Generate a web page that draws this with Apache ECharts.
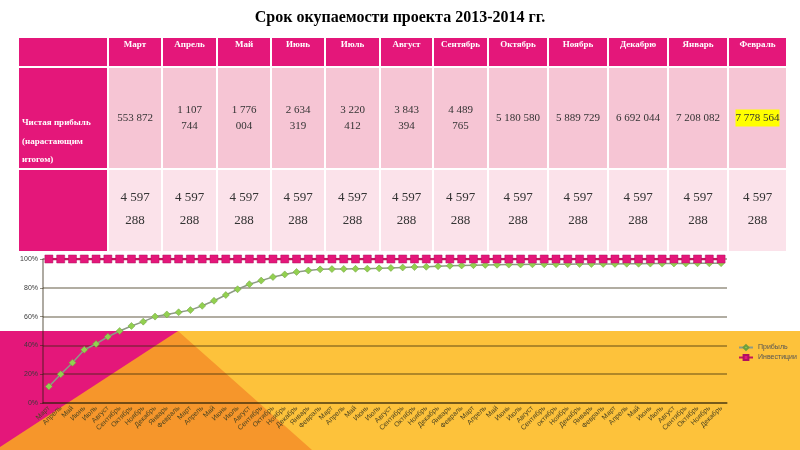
<!DOCTYPE html>
<html>
<head>
<meta charset="utf-8">
<script src="https://cdn.jsdelivr.net/npm/echarts@6/dist/echarts.min.js"></script>
<style>
  html, body { margin: 0; padding: 0; background: #fff; }
  #chart { width: 800px; height: 450px; }
</style>
</head>
<body>
<div id="chart"></div>
<script>
// таблица
const tableMonths = ['Март', 'Апрель', 'Май', 'Июнь', 'Июль', 'Август', 'Сентябрь', 'Октябрь', 'Ноябрь', 'Декабрю', 'Январь', 'Февраль'];
const netProfit = [553872, 1107744, 1776004, 2634319, 3220412, 3843394, 4489765, 5180580, 5889729, 6692044, 7208082, 7778564];
const investTable = [4597288, 4597288, 4597288, 4597288, 4597288, 4597288, 4597288, 4597288, 4597288, 4597288, 4597288, 4597288];
const rowLabel = 'Чистая прибыль\n(нарастающим\nитогом)';

// график
const categories = [
  'Март', 'Апрель', 'Май', 'Июнь', 'Июль', 'Август', 'Сентябрь', 'Октябрь', 'Ноябрь', 'Декабрь', 'Январь', 'Февраль',
  'Март', 'Апрель', 'Май', 'Июнь', 'Июль', 'Август', 'Сентябрь', 'Октябрь', 'Ноябрь', 'Декабрь', 'Январь', 'Февраль',
  'Март', 'Апрель', 'Май', 'Июнь', 'Июль', 'Август', 'Сентябрь', 'Октябрь', 'Ноябрь', 'Декабрь', 'Январь', 'Февраль',
  'Март', 'Апрель', 'Май', 'Июнь', 'Июль', 'Август', 'Сентябрь', 'октябрь', 'Ноябрь', 'Декабрь', 'Январь', 'Февраль',
  'Март', 'Апрель', 'Май', 'Июнь', 'Июль', 'Август', 'Сентябрь', 'Октябрь', 'Ноябрь', 'Декабрь'
];
const profitPct = [
  11.5, 20, 28, 37, 41, 46, 50, 53.5, 56.5, 60, 61.5, 63,
  64.5, 67.5, 71, 75, 79, 82.5, 85, 87.5, 89.3, 91, 92, 92.8,
  93, 93.1, 93.2, 93.3, 93.5, 93.8, 94.1, 94.4, 94.6, 95, 95.3, 95.5,
  95.7, 95.9, 96, 96.1, 96.2, 96.3, 96.3, 96.4, 96.4, 96.5, 96.5, 96.6,
  96.6, 96.7, 96.7, 96.8, 96.8, 96.9, 96.9, 97, 97, 97.1
];
const investPct = [
  100, 100, 100, 100, 100, 100, 100, 100, 100, 100, 100, 100,
  100, 100, 100, 100, 100, 100, 100, 100, 100, 100, 100, 100,
  100, 100, 100, 100, 100, 100, 100, 100, 100, 100, 100, 100,
  100, 100, 100, 100, 100, 100, 100, 100, 100, 100, 100, 100,
  100, 100, 100, 100, 100, 100, 100, 100, 100, 100
];

const MAGENTA = '#E4177A';
const SERIF = '"Liberation Serif", "DejaVu Serif", serif';
const SANS = '"Liberation Sans", Arial, sans-serif';

// ширины колонок и высоты строк таблицы (в пикселях сетки)
const colWidths = [90, 54, 55, 54, 54, 55, 53, 55, 60, 60, 60, 60, 59];
const rowHeights = [30, 102, 83];
const colEdge = [0];
colWidths.forEach(w => colEdge.push(colEdge[colEdge.length - 1] + w));
const rowEdge = [0];
rowHeights.forEach(h => rowEdge.push(rowEdge[rowEdge.length - 1] + h));

function fmt(n) {
  return String(n).replace(/\B(?=(\d{3})+(?!\d))/g, ' ');
}
function breakLast(s) {
  const i = s.lastIndexOf(' ');
  return s.slice(0, i) + '\n' + s.slice(i + 1);
}

// ячейки: [колонка, строка]
const cells = [];
for (let c = 0; c < 13; c++) {
  for (let r = 0; r < 3; r++) cells.push([c, r]);
}

function cellText(c, r) {
  if (c === 0) return r === 1 ? rowLabel : '';
  const i = c - 1;
  if (r === 0) return tableMonths[i];
  if (r === 1) {
    const s = fmt(netProfit[i]);
    return (colWidths[c] < 58 && s.split(' ').length > 2) ? breakLast(s) : s;
  }
  return breakLast(fmt(investTable[i]));
}

function renderCell(params, api) {
  const c = api.value(0), r = api.value(1);
  const p0 = api.coord([colEdge[c], rowEdge[r]]);
  const p1 = api.coord([colEdge[c + 1], rowEdge[r + 1]]);
  const x = p0[0] + 1, y = p0[1] + 1, w = p1[0] - p0[0] - 2, h = p1[1] - p0[1] - 2;
  let fill = r === 1 ? '#F6C5D4' : '#FBE2EA';
  if (r === 0 || c === 0) fill = MAGENTA;
  const children = [{ type: 'rect', shape: { x, y, width: w, height: h }, style: { fill } }];
  const text = cellText(c, r);
  if (text) {
    let style;
    if (r === 0) {
      style = { text, x: x + w / 2, y: y + 2, align: 'center', verticalAlign: 'top',
        font: 'bold 9px ' + SERIF, fill: '#fff' };
    } else if (c === 0) {
      style = { text, x: x + 3, y: y + h + 1, align: 'left', verticalAlign: 'bottom',
        font: 'bold 9px ' + SERIF, fill: '#fff', lineHeight: 18.5 };
    } else if (r === 1) {
      style = { text, x: x + w / 2, y: y + h / 2, align: 'center', verticalAlign: 'middle',
        font: '11px ' + SERIF, fill: '#333', lineHeight: 16 };
      if (c === 12) { style.backgroundColor = '#FFFF00'; style.padding = [1, 0, 0, 0]; }
    } else {
      style = { text, x: x + w / 2, y: y + h / 2 - 1, align: 'center', verticalAlign: 'middle',
        font: '13px ' + SERIF, fill: '#333', lineHeight: 23 };
    }
    children.push({ type: 'text', style });
  }
  return { type: 'group', children };
}

const chart = echarts.init(document.getElementById('chart'));
const option = {
  animation: false,
  backgroundColor: '#fff',
  title: {
    text: 'Срок окупаемости проекта 2013-2014 гг.',
    left: 'center', top: 5,
    textStyle: { fontFamily: SERIF, fontSize: 16, fontWeight: 'bold', color: '#000' }
  },
  graphic: [
    { type: 'rect', z: -10, shape: { x: 0, y: 331, width: 800, height: 119 }, style: { fill: '#FDC23B' } },
    { type: 'polygon', z: -9, shape: { points: [[0, 331], [178, 331], [312, 450], [0, 450]] }, style: { fill: '#F6962B' } },
    { type: 'polygon', z: -8, shape: { points: [[0, 331], [178, 331], [0, 447]] }, style: { fill: MAGENTA } }
  ],
  legend: {
    orient: 'vertical', left: 733, top: 339,
    itemWidth: 14, itemHeight: 6, itemGap: 3,
    textStyle: { fontFamily: SANS, fontSize: 7, color: '#555' },
    data: ['Прибыль', 'Инвестиции']
  },
  grid: [
    { left: 43, right: 73, top: 259, bottom: 47 },
    { left: 18, top: 37, width: 769, height: 215 }
  ],
  xAxis: [
    {
      type: 'category', data: categories, gridIndex: 0,
      axisLine: { lineStyle: { color: 'rgba(40,30,10,0.55)', width: 1.5 } },
      axisTick: { interval: 0, length: 3, lineStyle: { color: 'rgba(40,30,10,0.55)' } },
      axisLabel: { interval: 0, rotate: 45, fontSize: 7, fontFamily: SANS, color: '#4d4420', margin: 4 }
    },
    { type: 'value', gridIndex: 1, min: 0, max: colEdge[colEdge.length - 1], show: false }
  ],
  yAxis: [
    {
      type: 'value', gridIndex: 0, min: 0, max: 100, interval: 20,
      axisLine: { show: true, lineStyle: { color: 'rgba(40,30,10,0.5)', width: 1.5 } },
      axisTick: { show: true, length: 3, lineStyle: { color: 'rgba(40,30,10,0.5)' } },
      axisLabel: { formatter: '{value}%', fontSize: 7, fontFamily: SANS, color: '#3a3a3a', margin: 5 },
      splitLine: { lineStyle: { color: 'rgba(50,40,10,0.38)', width: 2 } }
    },
    { type: 'value', gridIndex: 1, min: 0, max: rowEdge[rowEdge.length - 1], inverse: true, show: false }
  ],
  series: [
    {
      type: 'custom', xAxisIndex: 1, yAxisIndex: 1, clip: false, silent: true,
      data: cells, renderItem: renderCell, z: 1
    },
    {
      name: 'Прибыль', type: 'line', data: profitPct,
      symbol: 'diamond', symbolSize: 7,
      lineStyle: { color: '#8E9A86', width: 1.5 },
      itemStyle: { color: '#92D050', borderColor: '#6E9E3C', borderWidth: 0.5 },
      z: 3
    },
    {
      name: 'Инвестиции', type: 'line', data: investPct,
      symbol: 'rect', symbolSize: 8,
      lineStyle: { color: '#C2185B', width: 2.5 },
      itemStyle: { color: MAGENTA, borderColor: '#B01060', borderWidth: 0.5 },
      z: 4
    }
  ]
};
chart.setOption(option);
</script>
</body>
</html>
